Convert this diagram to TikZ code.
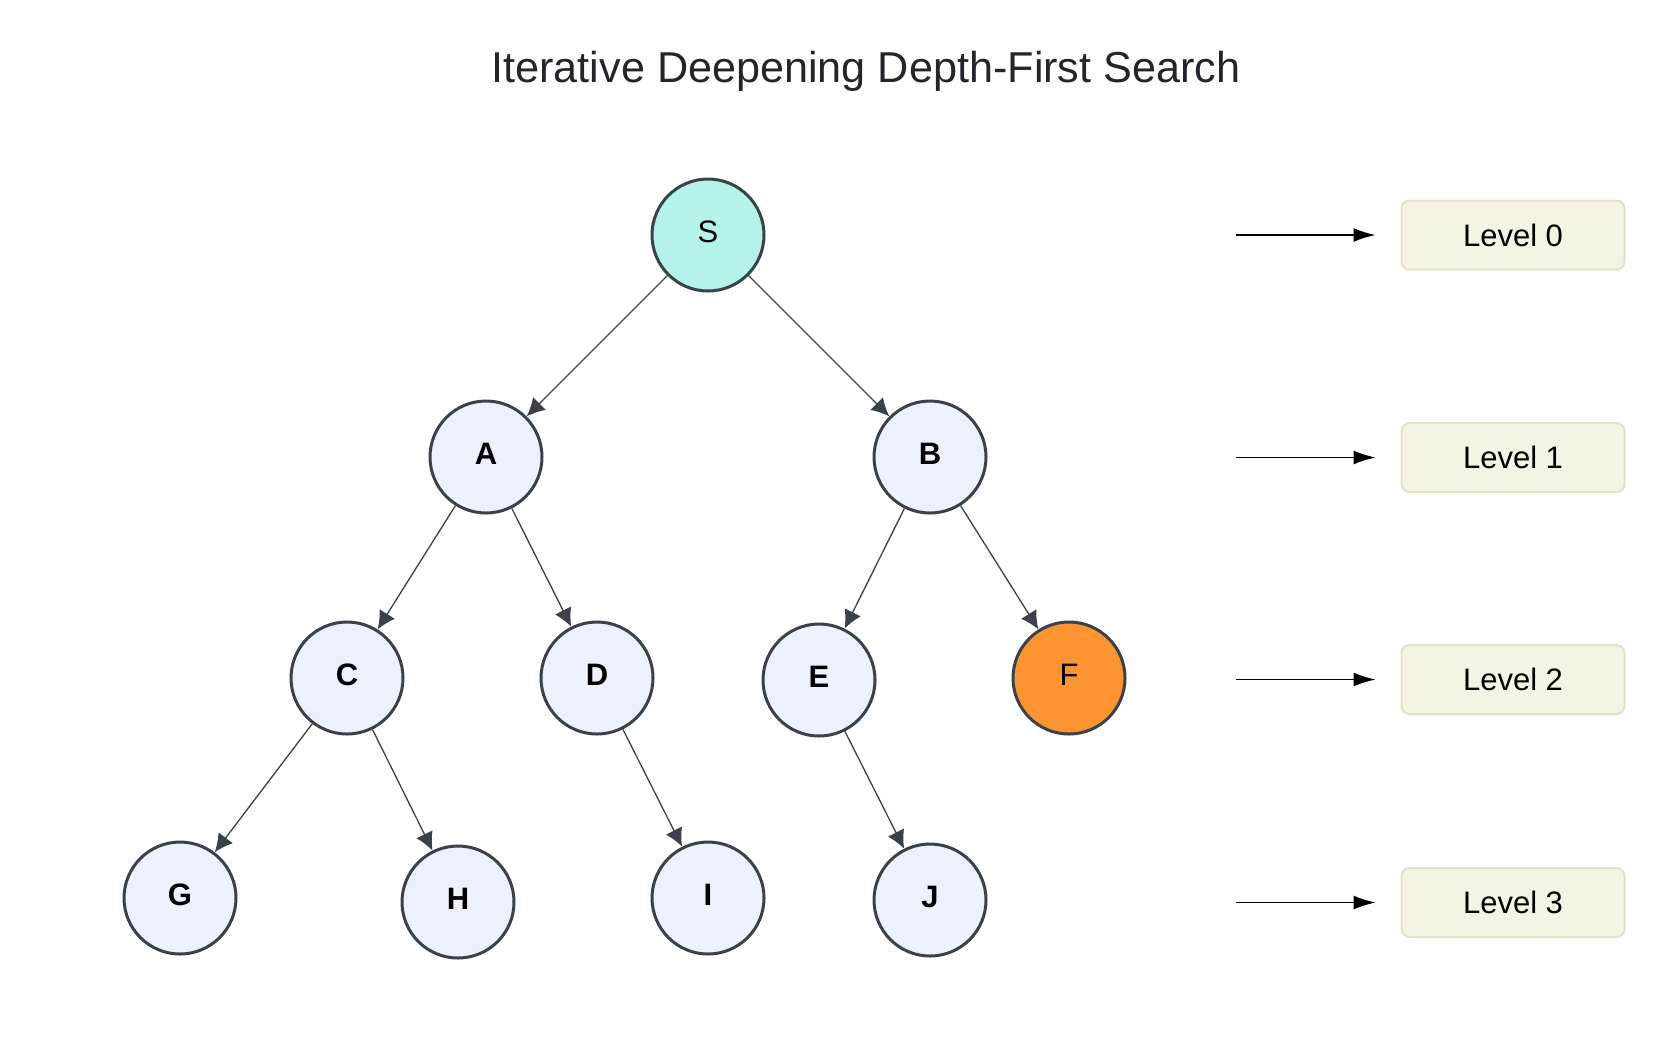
\documentclass[tikz,border=0pt]{standalone}
\usepackage{fontspec}
\setmainfont{Liberation Sans}
\usetikzlibrary{arrows.meta}
\definecolor{edgegray}{HTML}{3A414A}
\definecolor{nodeblue}{HTML}{EBF2FD}
\definecolor{startcyan}{HTML}{B5F2EA}
\definecolor{goalorange}{HTML}{FC9431}
\definecolor{levelfill}{HTML}{F5F3E3}
\definecolor{levelline}{HTML}{E6E0C4}
\definecolor{titlegray}{HTML}{22252B}
\begin{document}
\begin{tikzpicture}[x = .5pt, y = -.5pt,
  vertex/.style = {circle, draw = edgegray, line width = 1.5pt, fill = nodeblue,
                   minimum size = 56pt, inner sep = 0pt, text height = 11.2pt, text depth = 4.2pt,
                   font = \fontsize{15.5}{18}\selectfont\bfseries},
  level/.style = {draw = levelline, line width = 1pt, fill = levelfill, rounded corners = 4pt,
                  minimum width = 111.5pt, minimum height = 34.5pt, font = \fontsize{15.5}{18}\selectfont},
  edge/.style = {draw = edgegray, line width = .65pt, -{Latex[length = 9pt, width = 9pt]}},
  pointer/.style = {draw = black, line width = .75pt, shorten >= 12.5pt,
                    -{Latex[length = 11pt, width = 7pt]}}]
\useasboundingbox (0, 0) rectangle (1674, 1062);
\node[anchor = base, text = titlegray, font = \fontsize{21.6}{26}\selectfont] (title) at (866, 82)
  {Iterative Deepening Depth-First Search};
% tree
\draw (708, 235) node[vertex, fill = startcyan, font = \fontsize{15.5}{18}\selectfont] (s) {S};
\draw (486, 457) node[vertex] (a) {A};
\draw (930, 457) node[vertex] (b) {B};
\draw (347, 678) node[vertex] (c) {C};
\draw (597, 678) node[vertex] (d) {D};
\draw (819, 680) node[vertex] (e) {E};
\draw (1069, 678) node[vertex, fill = goalorange, font = \fontsize{15.5}{18}\selectfont] (f) {F};
\draw (180, 898) node[vertex] (g) {G};
\draw (458, 902) node[vertex] (h) {H};
\draw (708, 898) node[vertex] (i) {I};
\draw (930, 900) node[vertex] (j) {J};
\draw [edge] (s) to (a);
\draw [edge] (s) to (b);
\draw [edge] (a) to (c);
\draw [edge] (a) to (d);
\draw [edge] (b) to (e);
\draw [edge] (b) to (f);
\draw [edge] (c) to (g);
\draw [edge] (c) to (h);
\draw [edge] (d) to (i);
\draw [edge] (e) to (j);
% levels
\foreach \lv/\y in {0/235, 1/457.5, 2/679.5, 3/902.5} {
  \draw (1513, \y) node[level] (lev\lv) {Level \lv};
  \coordinate (from\lv) at (1236, \y);
  \draw [pointer] (from\lv) to (lev\lv);
}
\end{tikzpicture}
\end{document}
